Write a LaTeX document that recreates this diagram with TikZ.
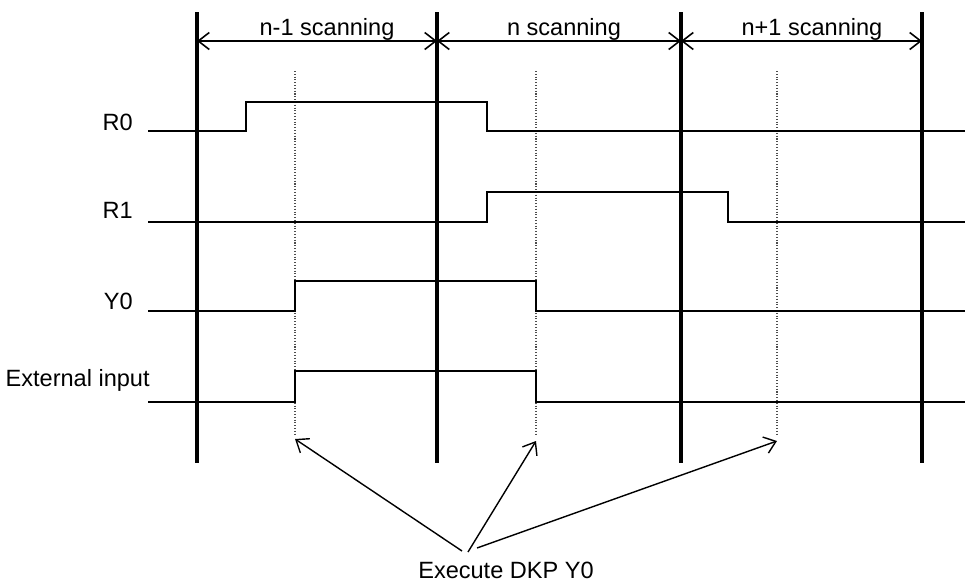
\documentclass[tikz,border=0pt]{standalone}
\usepackage{fontspec}
\setmainfont{Liberation Sans}
\usetikzlibrary{arrows.meta,positioning,calc}
\tikzset{
  scanline/.style={line width=1.9pt},
  signal/.style={line width=1.1pt},
  execline/.style={draw=gray!60!black,line width=0.6pt,densely dotted},
  span/.style={{Straight Barb[length=2.2mm,width=3.4mm]}-{Straight Barb[length=2.2mm,width=3.4mm]},line width=0.9pt},
  callout/.style={-{Straight Barb[length=2.2mm,width=3.4mm]},line width=0.8pt},
  signame/.style={anchor=base east,inner sep=0pt,font=\fontsize{13.4}{16}\selectfont},
  scanname/.style={anchor=base,inner sep=0pt,font=\fontsize{13.4}{16}\selectfont}
}

\begin{document}
\begin{tikzpicture}[x=0.02cm,y=-0.02cm]
  \useasboundingbox (0,0) rectangle (965,585);
  % scan boundaries
  \foreach \i/\x in {0/197,1/437,2/681,3/922}{
    \coordinate (top\i) at (\x,12);
    \coordinate (bot\i) at (\x,463);
    \coordinate (a\i) at (\x,41);
    \draw[scanline] (top\i) -- (bot\i);
  }
  \draw[span] (a0) -- (a1);
  \draw[span] (a1) -- (a2);
  \draw[span] (a2) -- (a3);
  \node[scanname] (s0) at (327,35) {n-1 scanning};
  \node[scanname] (s1) at (564,35) {n scanning};
  \node[scanname] (s2) at (812,35) {n+1 scanning};

  % DKP execution points
  \foreach \i/\x/\y in {0/295/439,1/536/441,2/777/441}{
    \coordinate (e\i) at (\x,71);
    \coordinate (f\i) at (\x,434);
    \coordinate (g\i) at (\x,\y);
    \draw[execline] (e\i) -- (f\i);
  }

  % signals
  \node[signame] (r0) at (133,130) {R0};
  \node[signame] (r1) at (133,218) {R1};
  \node[signame] (y0) at (133,309) {Y0};
  \node[signame] (ext) at (150,386) {External input};
  \draw[signal] (148,131) -- (246,131) -- (246,102) -- (487,102) -- (487,131) -- (965,131);
  \draw[signal] (148,222) -- (487,222) -- (487,192) -- (728,192) -- (728,222) -- (965,222);
  \draw[signal] (148,311) -- (295,311) -- (295,281) -- (536,281) -- (536,311) -- (965,311);
  \draw[signal] (148,402) -- (295,402) -- (295,371) -- (536,371) -- (536,402) -- (965,402);

  \node[scanname] (exe) at (506,578) {Execute DKP Y0};
  \coordinate (t0) at (462,551);
  \coordinate (t1) at (468,552);
  \coordinate (t2) at (477,548);
  \draw[callout] (t0) -- (g0);
  \draw[callout] (t1) -- (g1);
  \draw[callout] (t2) -- (g2);
\end{tikzpicture}
\end{document}
